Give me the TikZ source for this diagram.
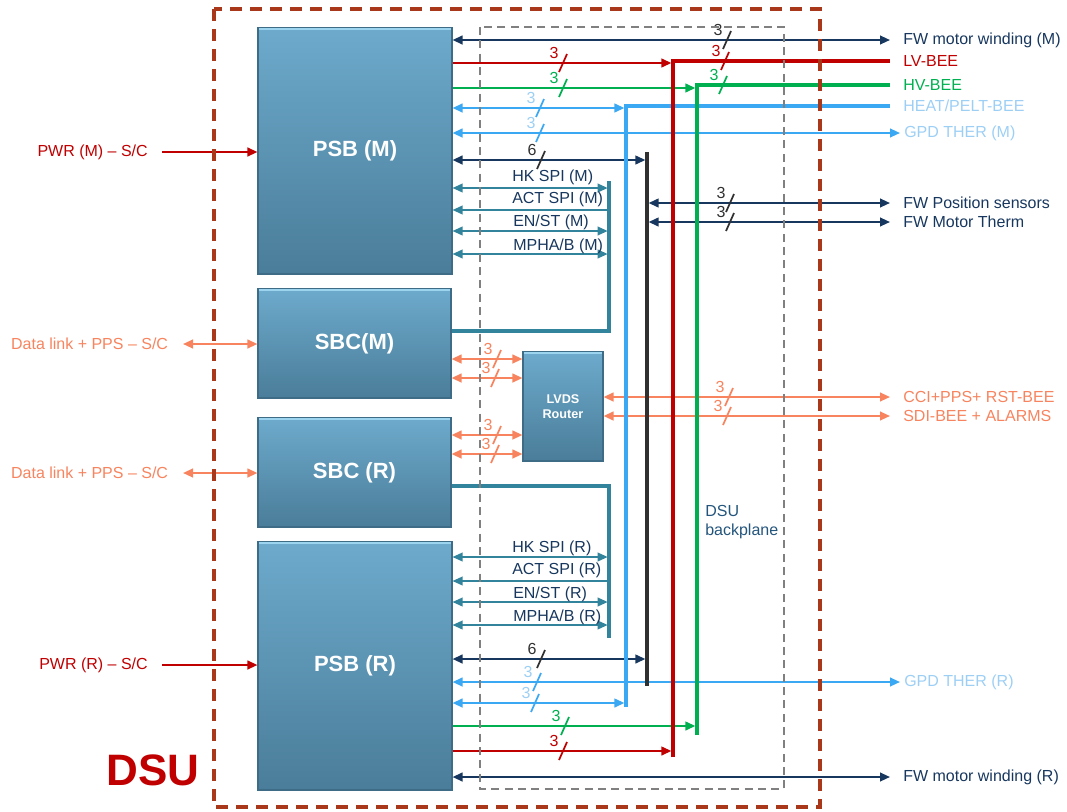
\documentclass[tikz,border=0pt]{standalone}
\usepackage{fontspec}
\setmainfont{Liberation Sans}
\usetikzlibrary{arrows.meta,fit}
\definecolor{nv}{HTML}{17375E}
\definecolor{dk}{HTML}{303030}
\definecolor{rd}{HTML}{C00000}
\definecolor{gr}{HTML}{00B050}
\definecolor{bl}{HTML}{3BA8F3}
\definecolor{bltxt}{HTML}{9DCFF5}
\definecolor{tl}{HTML}{31849B}
\definecolor{og}{HTML}{F7845E}
\definecolor{dsuc}{HTML}{A9381B}
\definecolor{bpc}{HTML}{808080}
\definecolor{boxtop}{HTML}{6DAACC}
\definecolor{boxbot}{HTML}{4A7D99}
\definecolor{boxedge}{HTML}{3E6C86}
\definecolor{boxhi}{HTML}{9CD3EE}
\definecolor{bptxt}{HTML}{24557D}
\newcommand{\busmark}[5]{%
  \draw[#3, line width=1.3pt] (#1-4,#2+9) -- (#1+4,#2-9);
  \node[text=#4, inner sep=0pt] at (#1-9,#2-10) {#5};}
\newcommand{\boxhl}[1]{%
  \draw[boxhi, line width=1.6pt] ([xshift=1.5pt,yshift=-1pt]#1.north west) -- ([xshift=-1.5pt,yshift=-1pt]#1.north east);}
\tikzset{
  box/.style={draw=boxedge, line width=0.8pt, top color=boxtop, bottom color=boxbot, inner sep=0pt},
  boxtxt/.style={text=white, font=\bfseries\fontsize{16.5}{18}\selectfont},
  thin/.style={line width=1.5pt},
  thick/.style={line width=3.2pt},
  tln/.style={tl, line width=1.2pt},
  tlk/.style={tl, line width=2.6pt},
  rt/.style={anchor=west, inner xsep=9.75pt, inner ysep=0pt},
  rtg/.style={anchor=west, inner xsep=3pt, inner ysep=0pt},
  lt/.style={anchor=east, inner xsep=10.5pt, inner ysep=0pt},
  spi/.style={text=nv, anchor=west, inner sep=0pt},
  dsuframe/.style={draw=dsuc, line width=3pt, dash pattern=on 9pt off 6pt},
  bpframe/.style={draw=bpc, line width=1.5pt, dash pattern=on 6pt off 4pt},
}
\begin{document}
\begin{tikzpicture}[x=0.75pt,y=-0.75pt, >={Triangle[length=7.5pt,width=6.5pt]}, font=\fontsize{12}{14}\selectfont]
\useasboundingbox (0,0) rectangle (1067,811);

% boxes
\node[box, fit={(258,28) (452,274)}] (psbm) {};
\node[boxtxt] at (psbm.center) {PSB (M)};
\node[box, fit={(258,289) (451,398)}] (sbcm) {};
\node[boxtxt] at (sbcm.center) {SBC(M)};
\node[box, fit={(258,418) (451,527)}] (sbcr) {};
\node[boxtxt] at (sbcr.center) {SBC (R)};
\node[box, fit={(258,542) (452,790)}] (psbr) {};
\node[boxtxt] at (psbr.center) {PSB (R)};
\node[box, fit={(523,352) (603,461)}] (lvds) {};
\node[text=white, font=\bfseries\fontsize{9.5}{11.5}\selectfont, align=center] at (lvds.center) {LVDS\\Router};
\boxhl{psbm}\boxhl{sbcm}\boxhl{sbcr}\boxhl{psbr}\boxhl{lvds}

% bus corner coordinates
\coordinate (rtop) at (673,61);  \coordinate (rbot) at (673,757);
\coordinate (gtop) at (697,85);  \coordinate (gbot) at (697,735);
\coordinate (btop) at (626,106); \coordinate (bbot) at (626,707);
\coordinate (dtop) at (647,152); \coordinate (dbot) at (647,686);
\coordinate (tmtop) at (609,181); \coordinate (tmbot) at (609,331);
\coordinate (trtop) at (609,486); \coordinate (trbot) at (609,638);

% right labels
\node[rt, text=nv] (fwm) at (890,40) {FW motor winding (M)};
\node[rt, text=rd] (lvbee) at (890,61) {LV-BEE};
\node[rt, text=gr] (hvbee) at (890,85) {HV-BEE};
\node[rt, text=bltxt] (heat) at (890,106) {HEAT/PELT-BEE};
\node[rtg, text=bltxt] (gpdm) at (900,133) {GPD THER (M)};
\node[rt, text=nv] (fwpos) at (890,203) {FW Position sensors};
\node[rt, text=nv] (fwth) at (890,222) {FW Motor Therm};
\node[rt, text=og] (cci) at (890,397) {CCI+PPS+ RST-BEE};
\node[rt, text=og] (sdi) at (890,416) {SDI-BEE + ALARMS};
\node[rtg, text=bltxt] (gpdr) at (900,682) {GPD THER (R)};
\node[rt, text=nv] (fwr) at (890,777) {FW motor winding (R)};

% left labels
\node[lt, text=rd] (pwrm) at (162,152) {PWR (M) – S/C};
\node[lt, text=og, inner xsep=11pt] (dlm) at (183,344) {Data link + PPS – S/C};
\node[lt, text=og, inner xsep=11pt] (dlr) at (183,473) {Data link + PPS – S/C};
\node[lt, text=rd] (pwrr) at (162,665) {PWR (R) – S/C};
\draw[rd, thin, ->] (pwrm.east) -- (psbm.west |- pwrm.east);
\draw[rd, thin, ->] (pwrr.east) -- (psbr.west |- pwrr.east);
\draw[og, thin, <->] (dlm.east) -- (sbcm.west |- dlm.east);
\draw[og, thin, <->] (dlr.east) -- (sbcr.west |- dlr.east);

% PSB (M) horizontal links
\draw[nv, thin, <->] (psbm.east |- fwm.west) -- (fwm.west);
\draw[rd, thin, ->, shorten >=1.2pt] (psbm.east |- 0,63) -- (rtop |- 0,63);
\draw[gr, thin, ->, shorten >=1.2pt] (psbm.east |- 0,88) -- (gtop |- 0,88);
\draw[bl, thin, <->, shorten >=1.2pt] (psbm.east |- 0,108) -- (btop |- 0,108);
\draw[bl, thin, <->] (psbm.east |- gpdm.west) -- (gpdm.west);
\draw[nv, thin, <->, shorten >=1.2pt] (psbm.east |- 0,160) -- (dtop |- 0,160);
\draw[nv, thin, <->, shorten <=1.2pt] (dtop |- fwpos.west) -- (fwpos.west);
\draw[nv, thin, <->, shorten <=1.2pt] (dtop |- fwth.west) -- (fwth.west);

% SPI (M)
\draw[tln, <->, shorten >=1pt] (psbm.east |- 0,188) -- (tmtop |- 0,188);
\draw[tln, <-] (psbm.east |- 0,210) -- (tmtop |- 0,210);
\draw[tln, <->, shorten >=1pt] (psbm.east |- 0,231) -- (tmtop |- 0,231);
\draw[tln, <->, shorten >=1pt] (psbm.east |- 0,254) -- (tmtop |- 0,254);
\node[spi] at (512,177) {HK SPI (M)};
\node[spi] at (512,199) {ACT SPI (M)};
\node[spi] at (513,222) {EN/ST (M)};
\node[spi] at (513,246) {MPHA/B (M)};
\draw[tlk] (sbcm.east |- tmbot) -- (tmbot) -- (tmtop);

% SBC <-> LVDS
\draw[og, thin, <->] (sbcm.east |- 0,359) -- (lvds.west |- 0,359);
\draw[og, thin, <->] (sbcm.east |- 0,378) -- (lvds.west |- 0,378);
\draw[og, thin, <->] (sbcr.east |- 0,435) -- (lvds.west |- 0,435);
\draw[og, thin, <->] (sbcr.east |- 0,454) -- (lvds.west |- 0,454);
\draw[og, thin, <->] (lvds.east |- cci.west) -- (cci.west);
\draw[og, thin, <->] (lvds.east |- sdi.west) -- (sdi.west);

% SPI (R)
\draw[tlk] (sbcr.east |- trtop) -- (trtop) -- (trbot);
\draw[tln, <->, shorten >=1pt] (psbr.east |- 0,557) -- (trtop |- 0,557);
\draw[tln, <-] (psbr.east |- 0,581) -- (trtop |- 0,581);
\draw[tln, <->, shorten >=1pt] (psbr.east |- 0,602) -- (trtop |- 0,602);
\draw[tln, <->, shorten >=1pt] (psbr.east |- 0,625) -- (trtop |- 0,625);
\node[spi] at (512,548) {HK SPI (R)};
\node[spi] at (512,570) {ACT SPI (R)};
\node[spi] at (513,594) {EN/ST (R)};
\node[spi] at (513,617) {MPHA/B (R)};

% PSB (R) horizontal links
\draw[nv, thin, <->, shorten >=1.2pt] (psbr.east |- 0,659) -- (dbot |- 0,659);
\draw[bl, thin, <->] (psbr.east |- gpdr.west) -- (gpdr.west);
\draw[bl, thin, <->, shorten >=1.2pt] (psbr.east |- 0,703) -- (bbot |- 0,703);
\draw[gr, thin, ->, shorten >=1.2pt] (psbr.east |- 0,726) -- (gbot |- 0,726);
\draw[rd, thin, ->, shorten >=1.2pt] (psbr.east |- 0,751) -- (rbot |- 0,751);
\draw[nv, thin, <->] (psbr.east |- fwr.west) -- (fwr.west);

% vertical buses
\draw[bl, thick] (bbot) -- (btop) -- (heat.west);
\draw[dk, line width=3pt] (dtop) -- (dbot);
\draw[rd, thick] (rbot) -- (rtop) -- (lvbee.west);
\draw[gr, thick] (gbot) -- (gtop) -- (hvbee.west);

% bus width marks
\busmark{727}{40}{dk}{dk}{3}
\busmark{563}{63}{rd}{rd}{3}
\busmark{725}{61}{rd}{rd}{3}
\busmark{563}{88}{gr}{gr}{3}
\busmark{723}{85}{gr}{gr}{3}
\busmark{540}{108}{bl}{bltxt}{3}
\busmark{540}{133}{bl}{bltxt}{3}
\busmark{541}{160}{dk}{dk}{6}
\busmark{730}{203}{dk}{dk}{3}
\busmark{730}{222}{dk}{dk}{3}
\busmark{497}{359}{og}{og}{3}
\busmark{495}{378}{og}{og}{3}
\busmark{497}{435}{og}{og}{3}
\busmark{495}{454}{og}{og}{3}
\busmark{729}{397}{og}{og}{3}
\busmark{727}{416}{og}{og}{3}
\busmark{541}{659}{dk}{dk}{6}
\busmark{537}{682}{bl}{bltxt}{3}
\busmark{535}{703}{bl}{bltxt}{3}
\busmark{565}{726}{gr}{gr}{3}
\busmark{563}{751}{rd}{rd}{3}

% backplane label
\node[text=bptxt, anchor=north west, align=left, inner sep=0pt, font=\fontsize{12}{14.3}\selectfont] (bpl) at (705,505) {DSU\\backplane};

% frames
\draw[bpframe] (480,27) rectangle (784,789);
\draw[dsuframe] (214,9) rectangle (820,807);
\node[text=rd, font=\bfseries\fontsize{33}{35}\selectfont] (dsu) at (153,770) {DSU};
\end{tikzpicture}
\end{document}
